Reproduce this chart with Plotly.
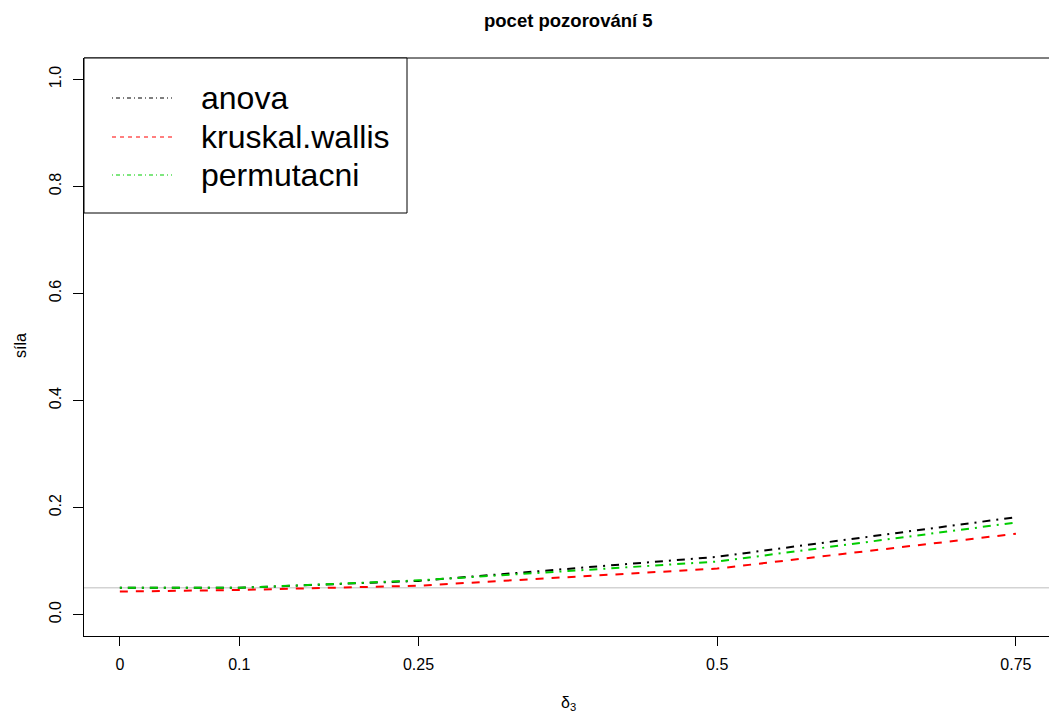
import plotly.graph_objects as go

# ---- data ----
delta = [0, 0.1, 0.25, 0.5, 0.75]
delta_labels = ["0", "0.1", "0.25", "0.5", "0.75"]
anova = [0.050, 0.050, 0.063, 0.108, 0.182]
kruskal = [0.043, 0.046, 0.054, 0.086, 0.151]
permutacni = [0.050, 0.050, 0.064, 0.099, 0.172]
series_names = ["anova", "kruskal.wallis", "permutacni"]
alpha = 0.05
y_ticks = [0.0, 0.2, 0.4, 0.6, 0.8, 1.0]
y_tick_labels = ["0.0", "0.2", "0.4", "0.6", "0.8", "1.0"]

W, H = 1049, 713
ML, MR, MT, MB = 84, 0, 58, 77
PW = W - ML - MR
PH = H - MT - MB

colors = ["#000000", "#FF0000", "#00CD00"]
dashes_main = ["2px,6px,8px,6px", "8px,8px", "2px,6px,8px,6px"]
dashes_leg = ["1px,3px,4px,3px", "4px,4px", "1px,3px,4px,3px"]
FONT = "Liberation Sans, Arial, Helvetica, sans-serif"

fig = go.Figure()
for name, ys, c, d in zip(series_names, [anova, kruskal, permutacni], colors, dashes_main):
    fig.add_trace(go.Scatter(x=delta, y=ys, mode="lines", name=name,
                             line=dict(color=c, width=2, dash=d), showlegend=False))

def px_x(p):
    return (p - ML) / PW

def px_y(p):
    return (H - MB - p) / PH

shapes = []
# reference line
shapes.append(dict(type="line", xref="paper", yref="y", x0=0, x1=1, y0=alpha, y1=alpha,
                   line=dict(color="#D3D3D3", width=1.5), layer="below"))
# top frame line
shapes.append(dict(type="line", xref="paper", yref="paper", x0=0, x1=1, y0=1, y1=1,
                   line=dict(color="black", width=1)))
# legend box
shapes.append(dict(type="rect", xref="paper", yref="paper",
                   x0=px_x(84), x1=px_x(407), y0=px_y(213), y1=px_y(58),
                   line=dict(color="black", width=1), fillcolor="white"))
annotations = []
leg_y = [98, 137, 175]
for name, c, d, ly in zip(series_names, colors, dashes_leg, leg_y):
    shapes.append(dict(type="line", xref="paper", yref="paper",
                       x0=px_x(112), x1=px_x(172), y0=px_y(ly), y1=px_y(ly),
                       line=dict(color=c, width=1.2, dash=d)))
    annotations.append(dict(text=name, xref="paper", yref="paper", x=px_x(199), y=px_y(ly),
                            xanchor="left", yanchor="middle", showarrow=False,
                            font=dict(size=32, color="black", family=FONT)))

annotations.append(dict(text="<b>pocet pozorování 5</b>", xref="paper", yref="paper",
                        x=px_x(568), y=px_y(20), xanchor="center", yanchor="middle",
                        showarrow=False, font=dict(size=18.5, color="black", family=FONT)))
annotations.append(dict(text="síla", xref="paper", yref="paper", x=px_x(20), y=px_y(346),
                        xanchor="center", yanchor="middle", textangle=-90, showarrow=False,
                        font=dict(size=16, color="black", family=FONT)))
annotations.append(dict(text="δ<sub>3</sub>", xref="paper", yref="paper", x=px_x(568), y=px_y(703),
                        xanchor="center", yanchor="middle", showarrow=False,
                        font=dict(size=16, color="black", family=FONT)))

fig.update_layout(
    width=W, height=H,
    margin=dict(l=ML, r=MR, t=MT, b=MB, pad=0),
    paper_bgcolor="white", plot_bgcolor="white",
    shapes=shapes, annotations=annotations,
    font=dict(family=FONT, size=16, color="black"),
    xaxis=dict(range=[-0.03, 0.7777], tickvals=delta, ticktext=delta_labels,
               showgrid=False, zeroline=False, showline=True, linecolor="black", linewidth=1,
               ticks="outside", ticklen=9, tickcolor="black", tickwidth=1,
               tickfont=dict(size=16, family=FONT), ticklabelstandoff=5),
    yaxis=dict(range=[-0.04, 1.04], tickvals=y_ticks, ticktext=y_tick_labels,
               showgrid=False, zeroline=False, showline=True, linecolor="black", linewidth=1,
               ticks="outside", ticklen=10, tickcolor="black", tickwidth=1, tickangle=-90,
               tickfont=dict(size=16, family=FONT), ticklabelstandoff=6),
)

fig.write_html("out.html")
